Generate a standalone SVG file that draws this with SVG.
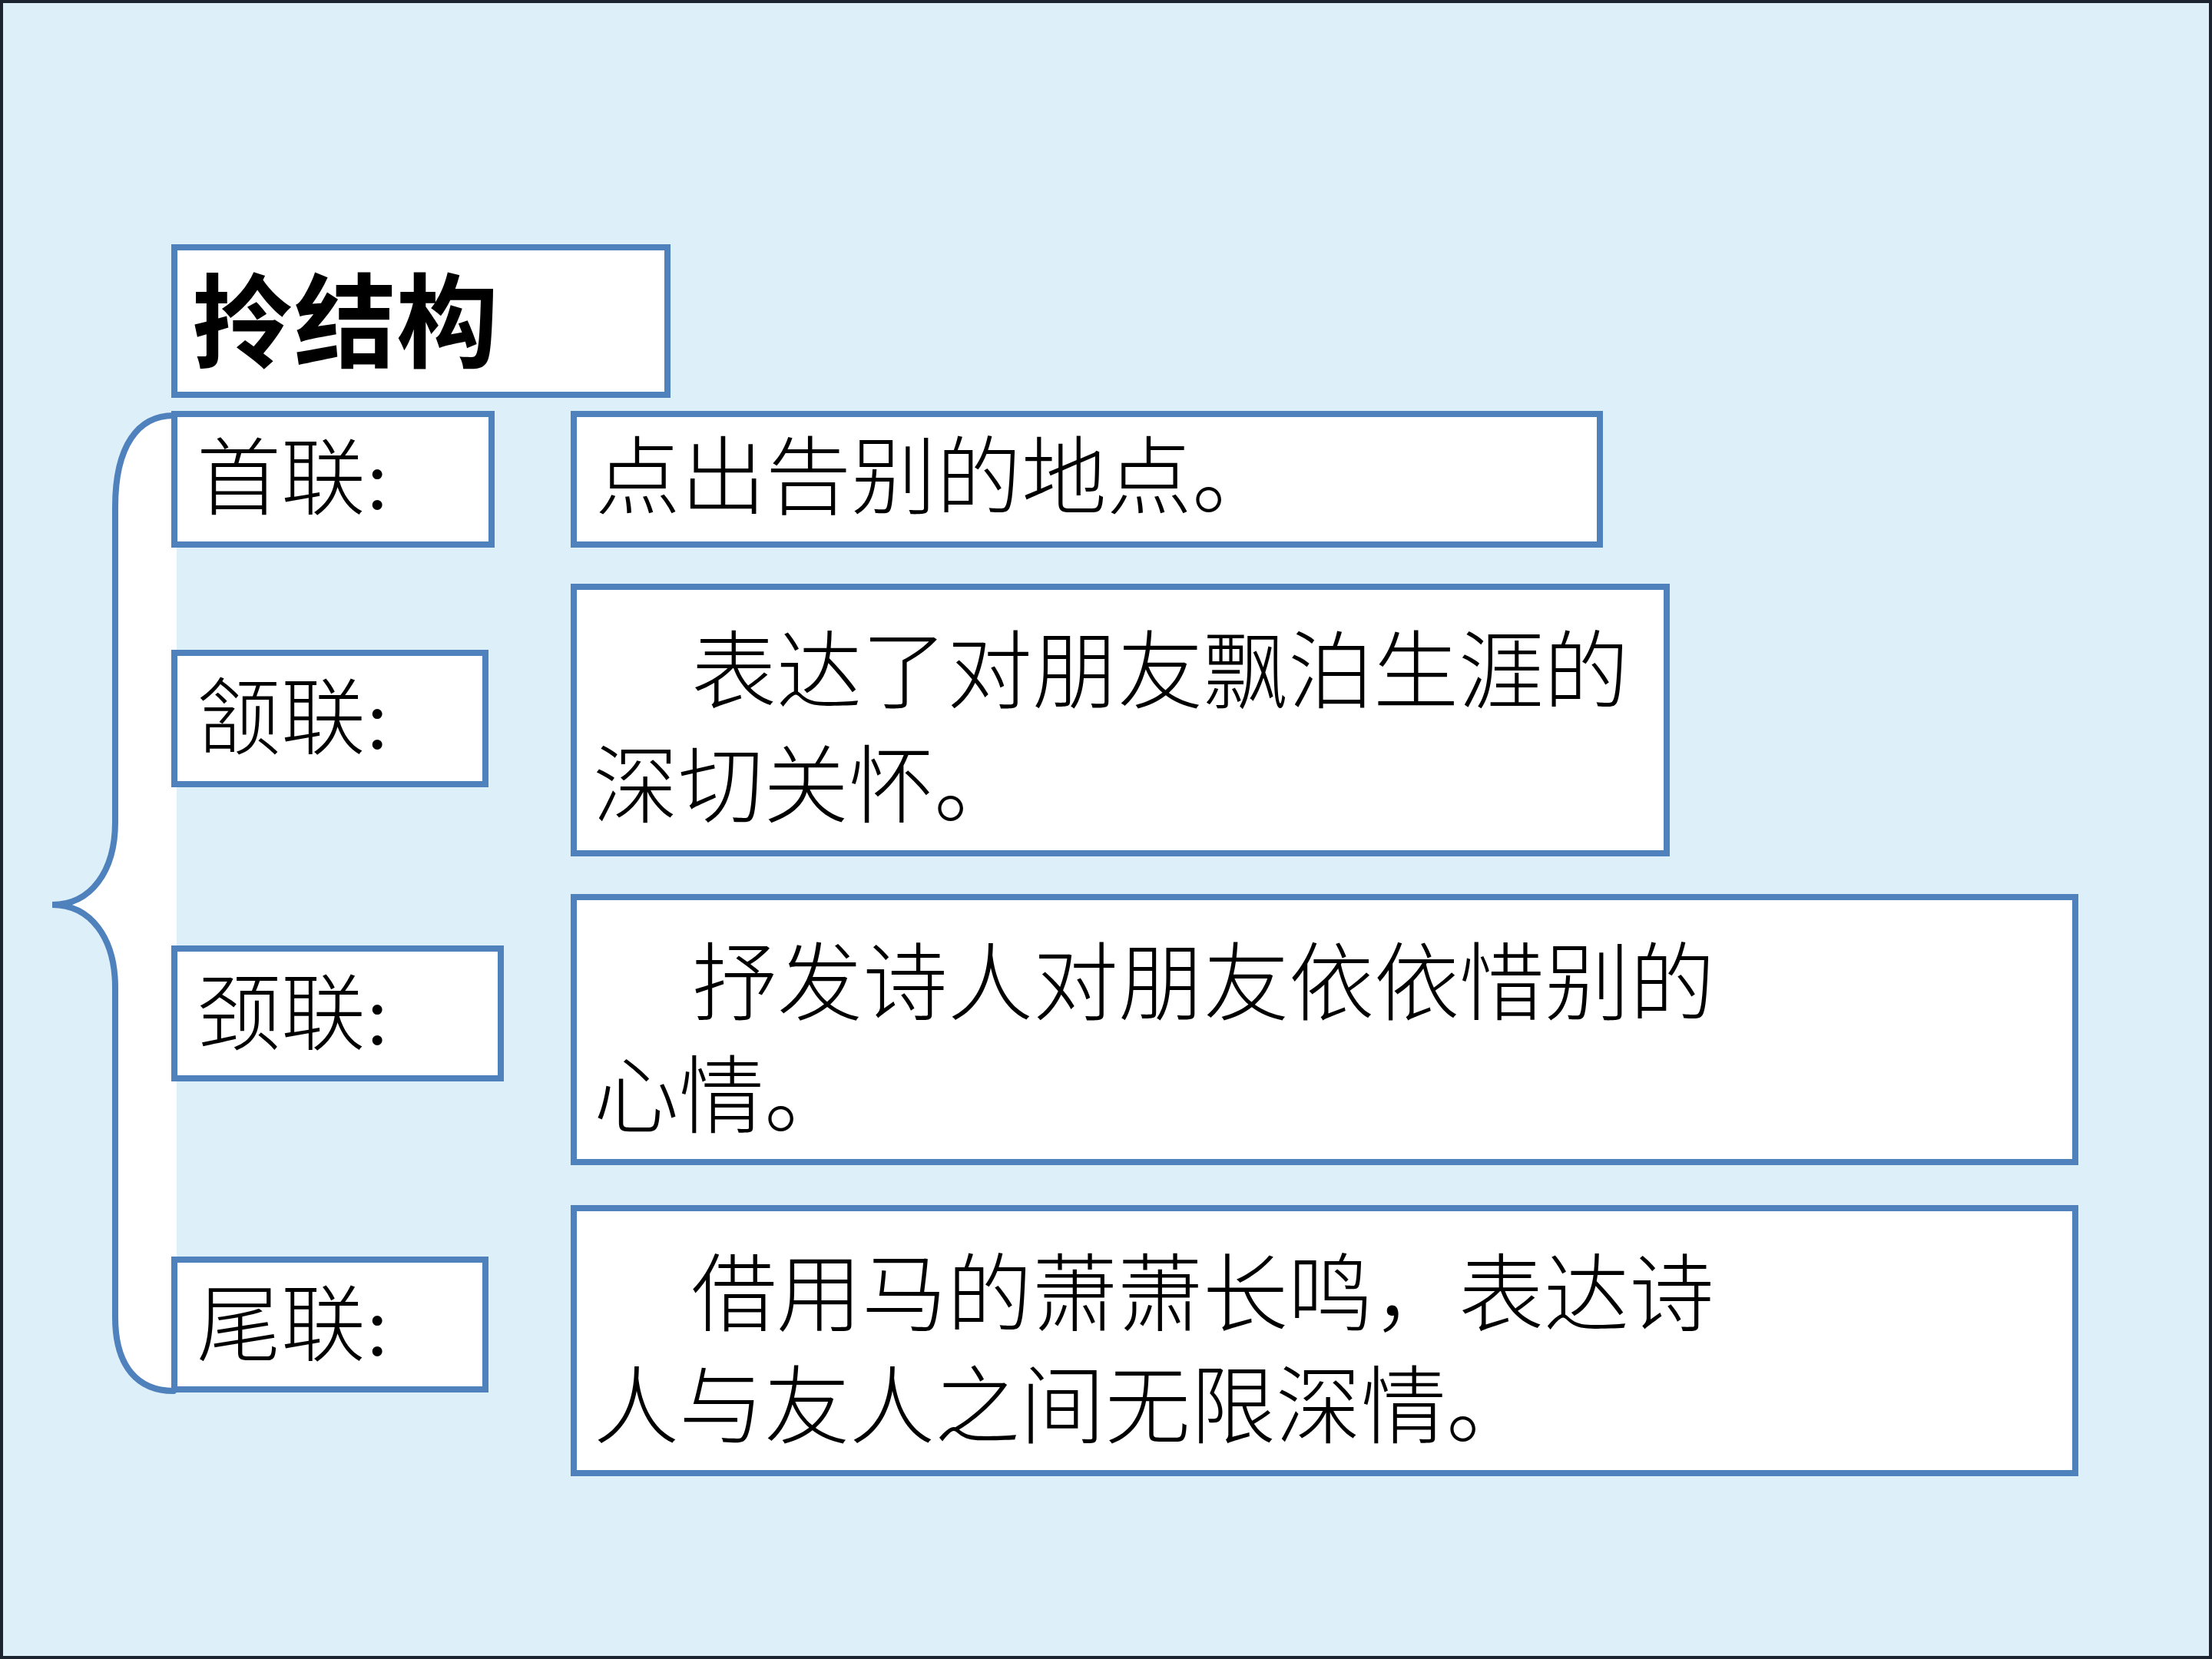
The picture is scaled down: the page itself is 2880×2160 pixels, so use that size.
<svg xmlns="http://www.w3.org/2000/svg" width="2880" height="2160" viewBox="0 0 2880 2160">
<style>
.bg{fill:#DDEFF9;stroke:#1B2430;stroke-width:4}
.box{fill:#FFFFFF;stroke:#4F81BD;stroke-width:8}
.t{font-family:"Liberation Serif","Noto Sans CJK SC",serif;fill:#000000}
.title{font-size:133px;font-weight:700}
.lbl{font-size:110px;font-weight:300}
.body{font-size:111px;font-weight:300}
.brace{fill:none;stroke:#4F81BD;stroke-width:8;stroke-linecap:round}
.bracefill{fill:#FFFFFF;stroke:none}
</style>
<rect class="bg" x="2" y="2" width="2876" height="2156"/>
<g id="connectors">
<path class="bracefill" d="M 226,541 C 180,541 150,580 150,660 L 150,1070 C 150,1135 118,1178 68,1178 C 118,1178 150,1221 150,1286 L 150,1715 C 150,1780 180,1811 226,1811 L 230,1811 L 230,541 Z"/>
<path class="brace" d="M 226,541 C 180,541 150,580 150,660 L 150,1070 C 150,1135 118,1178 68,1178 C 118,1178 150,1221 150,1286 L 150,1715 C 150,1780 180,1811 226,1811"/>
</g>
<g id="title">
<rect class="box" x="227" y="322" width="642" height="192"/>
<text class="t title" x="250" y="468">拎结构</text>
</g>
<g id="label1">
<rect class="box" x="227" y="539" width="413" height="170"/>
<text class="t lbl" x="256" y="662">首联:</text>
</g>
<g id="label2">
<rect class="box" x="227" y="850" width="405" height="171"/>
<text class="t lbl" x="256" y="974">颔联:</text>
</g>
<g id="label3">
<rect class="box" x="227" y="1235" width="425" height="169"/>
<text class="t lbl" x="256" y="1359">颈联:</text>
</g>
<g id="label4">
<rect class="box" x="227" y="1640" width="405" height="169"/>
<text class="t lbl" x="256" y="1764">尾联:</text>
</g>
<g id="text1">
<rect class="box" x="747" y="539" width="1336" height="170"/>
<text class="t body" x="775" y="661">点出告别的地点。</text>
</g>
<g id="text2">
<rect class="box" x="747" y="764" width="1423" height="347"/>
<text class="t body" x="900" y="914">表达了对朋友飘泊生涯的</text>
<text class="t body" x="772" y="1063">深切关怀。</text>
</g>
<g id="text3">
<rect class="box" x="747" y="1168" width="1955" height="345"/>
<text class="t body" x="901" y="1320">抒发诗人对朋友依依惜别的</text>
<text class="t body" x="773" y="1467">心情。</text>
</g>
<g id="text4">
<rect class="box" x="747" y="1573" width="1955" height="345"/>
<text class="t body" x="900" y="1725">借用马的萧萧长鸣，表达诗</text>
<text class="t body" x="773" y="1871">人与友人之间无限深情。</text>
</g>
</svg>
